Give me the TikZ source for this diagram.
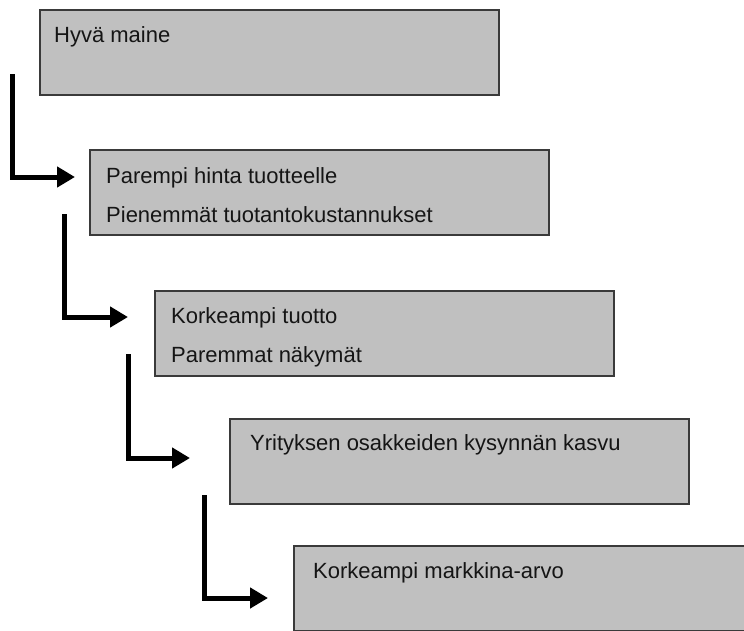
\documentclass[tikz,border=0pt]{standalone}
\usepackage{fontspec}
\setmainfont{Liberation Sans}
\usetikzlibrary{arrows.meta}
\definecolor{boxfill}{HTML}{C0C0C0}
\definecolor{boxline}{HTML}{3A3A3A}
\definecolor{txt}{HTML}{151515}
\begin{document}
\begin{tikzpicture}[x=1pt,y=-1pt,
  box/.style={draw=boxline, fill=boxfill, line width=1.5pt, anchor=north west,
    minimum width=459pt, minimum height=85pt, inner sep=0pt, outer sep=0pt},
  lbl/.style={anchor=base west, inner sep=0pt, font=\fontsize{22}{26}\selectfont, text=txt},
  flow/.style={line width=5pt, line join=miter, line cap=butt,
    -{Triangle[length=18pt,width=20pt]}}]
\useasboundingbox (0,0) rectangle (744,630);
\clip (0,0) rectangle (744,630);
\fill[white] (0,0) rectangle (744,630);

% boxes
\node[box] (b1) at (40,10) {};
\node[box] (b2) at (90,150) {};
\node[box] (b3) at (155,291) {};
\node[box] (b4) at (230,419) {};
\node[box] (b5) at (294,546) {};

% labels
\node[lbl] (t1) at (54,42) {Hyvä maine};
\node[lbl] (t2a) at (106,183) {Parempi hinta tuotteelle};
\node[lbl] (t2b) at (106,222) {Pienemmät tuotantokustannukset};
\node[lbl] (t3a) at (171,323) {Korkeampi tuotto};
\node[lbl] (t3b) at (171,362) {Paremmat näkymät};
\node[lbl] (t4) at (250,450) {Yrityksen osakkeiden kysynnän kasvu};
\node[lbl] (t5) at (313,578) {Korkeampi markkina-arvo};

% connectors
\coordinate (s1) at (12,74);   \coordinate (e1) at (75,177);
\coordinate (s2) at (64,214);  \coordinate (e2) at (128,317);
\coordinate (s3) at (128,354); \coordinate (e3) at (190,458);
\coordinate (s4) at (204,495); \coordinate (e4) at (268,598);
\draw[flow] (s1) |- (e1);
\draw[flow] (s2) |- (e2);
\draw[flow] (s3) |- (e3);
\draw[flow] (s4) |- (e4);
\end{tikzpicture}
\end{document}
